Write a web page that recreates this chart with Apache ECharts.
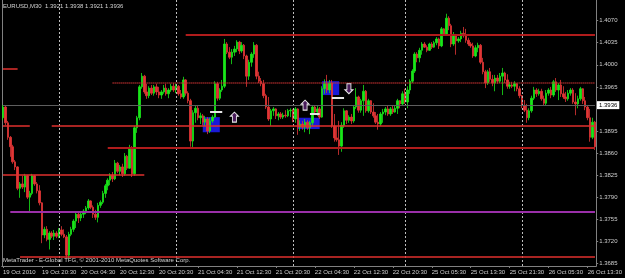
<!DOCTYPE html>
<html><head><meta charset="utf-8">
<script src="https://cdn.jsdelivr.net/npm/echarts@6.0.0/dist/echarts.min.js"></script>
<style>html,body{margin:0;padding:0;background:#000;}#c{width:625px;height:278px;}</style>
</head><body><div id="c"></div>
<script>
// Trading sessions: [day, first bar time, number of M30 bars]
const sessions = [['19 Oct','12:30',23],['20 Oct','00:00',48],['21 Oct','00:00',48],['22 Oct','00:00',46],['25 Oct','00:00',48],['26 Oct','00:00',31]];
const firstLabel = '19 Oct 2010';
const headerText = 'EURUSD,M30  1.3921 1.3938 1.3921 1.3936';
const footerText = 'MetaTrader - E-Global TFG, \u00A9 2001-2010 MetaQuotes Software Corp.';
const yTicks = [1.4070,1.4035,1.4000,1.3965,1.3895,1.3860,1.3825,1.3790,1.3755,1.3720,1.3685];
const bidPrice = 1.3936;

const open = [
1.3916,1.3933,1.3908,1.3885,1.3870,1.3846,1.3838,1.3804,1.3811,1.3806,
1.3824,1.3790,1.3796,1.3824,1.3811,1.3800,1.3781,1.3730,1.3739,1.3723,
1.3733,1.3728,1.3733,1.3728,1.3738,1.3731,1.3727,1.3698,1.3731,1.3739,
1.3752,1.3763,1.3757,1.3763,1.3768,1.3773,1.3784,1.3774,1.3763,1.3758,
1.3777,1.3782,1.3796,1.3808,1.3817,1.3825,1.3819,1.3844,1.3831,1.3838,
1.3827,1.3855,1.3836,1.3868,1.3827,1.3900,1.3916,1.3965,1.3982,1.3957,
1.3951,1.3963,1.3955,1.3965,1.3957,1.3952,1.3957,1.3963,1.3954,1.3960,
1.3966,1.3960,1.3966,1.3954,1.3949,1.3976,1.3955,1.3943,1.3879,1.3924,
1.3931,1.3916,1.3919,1.3909,1.3914,1.3895,1.3911,1.3917,1.3970,1.3947,
1.3960,1.3966,1.4033,1.4020,1.4012,1.4020,1.4025,1.4036,1.4022,1.4031,
1.4014,1.3982,1.4004,1.4017,1.4031,1.3982,1.3974,1.3970,1.3951,1.3933,
1.3914,1.3927,1.3930,1.3919,1.3922,1.3917,1.3920,1.3919,1.3927,1.3928,
1.3914,1.3930,1.3901,1.3906,1.3901,1.3909,1.3900,1.3908,1.3933,1.3925,
1.3930,1.3917,1.3962,1.3970,1.3960,1.3971,1.3903,1.3884,1.3881,1.3871,
1.3904,1.3927,1.3912,1.3917,1.3911,1.3933,1.3949,1.3928,1.3943,1.3958,
1.3927,1.3943,1.3925,1.3919,1.3909,1.3906,1.3922,1.3925,1.3930,1.3922,
1.3930,1.3925,1.3931,1.3943,1.3938,1.3954,1.3941,1.3960,1.3974,1.3990,
1.4017,1.4011,1.4023,1.4033,1.4028,1.4023,1.4033,1.4028,1.4035,1.4041,
1.4030,1.4057,1.4049,1.4074,1.4062,1.4033,1.4046,1.4038,1.4041,1.4050,
1.4046,1.4039,1.4033,1.4030,1.4014,1.4027,1.4031,1.4004,1.3989,1.3971,
1.3989,1.3977,1.3971,1.3979,1.3974,1.3982,1.3987,1.3976,1.3966,1.3968,
1.3966,1.3970,1.3962,1.3951,1.3935,1.3928,1.3916,1.3927,1.3947,1.3960,
1.3954,1.3958,1.3946,1.3939,1.3955,1.3960,1.3952,1.3973,1.3960,1.3968,
1.3954,1.3949,1.3946,1.3955,1.3960,1.3941,1.3938,1.3946,1.3962,1.3943,
1.3933,1.3916,1.3885,1.3909];
const high = [
1.3936,1.3935,1.3911,1.3887,1.3873,1.3849,1.3839,1.3814,1.3824,1.3827,
1.3825,1.3800,1.3827,1.3825,1.3814,1.3809,1.3782,1.3743,1.3744,1.3736,
1.3736,1.3738,1.3736,1.3741,1.3744,1.3739,1.3730,1.3735,1.3743,1.3755,
1.3766,1.3766,1.3766,1.3771,1.3776,1.3787,1.3785,1.3777,1.3770,1.3781,
1.3785,1.3800,1.3811,1.3820,1.3828,1.3830,1.3849,1.3846,1.3841,1.3843,
1.3860,1.3857,1.3873,1.3871,1.3903,1.3919,1.3968,1.3987,1.3984,1.3970,
1.3966,1.3968,1.3968,1.3970,1.3965,1.3960,1.3968,1.3970,1.3963,1.3970,
1.3971,1.3970,1.3968,1.3960,1.3981,1.3977,1.3958,1.3946,1.3928,1.3936,
1.3935,1.3924,1.3922,1.3919,1.3917,1.3916,1.3920,1.3974,1.3973,1.3963,
1.3976,1.4041,1.4036,1.4028,1.4025,1.4030,1.4039,1.4038,1.4036,1.4033,
1.4016,1.4008,1.4020,1.4036,1.4033,1.3989,1.3979,1.3976,1.3954,1.3949,
1.3930,1.3933,1.3931,1.3925,1.3925,1.3924,1.3928,1.3930,1.3931,1.3930,
1.3933,1.3931,1.3912,1.3911,1.3914,1.3912,1.3911,1.3936,1.3936,1.3935,
1.3933,1.3966,1.3977,1.3984,1.3976,1.3976,1.3922,1.3903,1.3911,1.3909,
1.3931,1.3928,1.3920,1.3922,1.3936,1.3963,1.3951,1.3946,1.3968,1.3960,
1.3946,1.3944,1.3939,1.3925,1.3922,1.3925,1.3930,1.3933,1.3935,1.3933,
1.3935,1.3935,1.3946,1.3944,1.3958,1.3962,1.3966,1.3977,1.3993,1.4020,
1.4020,1.4027,1.4036,1.4036,1.4031,1.4035,1.4036,1.4038,1.4044,1.4043,
1.4060,1.4058,1.4081,1.4077,1.4065,1.4052,1.4049,1.4044,1.4054,1.4060,
1.4057,1.4043,1.4036,1.4035,1.4031,1.4035,1.4033,1.4011,1.3992,1.3992,
1.3995,1.3984,1.3984,1.3984,1.3987,1.3995,1.3989,1.3985,1.3973,1.3973,
1.3974,1.3971,1.3966,1.3952,1.3944,1.3938,1.3931,1.3951,1.3965,1.3963,
1.3962,1.3962,1.3951,1.3960,1.3963,1.3965,1.3976,1.3979,1.3971,1.3976,
1.3966,1.3957,1.3960,1.3963,1.3963,1.3955,1.3951,1.3965,1.3963,1.3949,
1.3935,1.3930,1.3916,1.3911];
const low = [
1.3912,1.3904,1.3881,1.3854,1.3843,1.3833,1.3801,1.3789,1.3803,1.3798,
1.3787,1.3768,1.3793,1.3808,1.3796,1.3777,1.3717,1.3725,1.3720,1.3707,
1.3725,1.3722,1.3725,1.3725,1.3728,1.3725,1.3693,1.3693,1.3728,1.3735,
1.3741,1.3749,1.3752,1.3757,1.3763,1.3770,1.3771,1.3757,1.3754,1.3750,
1.3773,1.3779,1.3789,1.3801,1.3809,1.3814,1.3817,1.3828,1.3825,1.3822,
1.3824,1.3833,1.3835,1.3822,1.3824,1.3892,1.3912,1.3962,1.3954,1.3946,
1.3947,1.3952,1.3951,1.3952,1.3947,1.3946,1.3954,1.3951,1.3947,1.3957,
1.3957,1.3955,1.3951,1.3946,1.3946,1.3951,1.3939,1.3870,1.3868,1.3908,
1.3912,1.3906,1.3904,1.3903,1.3890,1.3892,1.3908,1.3916,1.3943,1.3944,
1.3957,1.3963,1.4017,1.4009,1.4001,1.4014,1.4020,1.4017,1.4019,1.4009,
1.3965,1.3976,1.3997,1.4011,1.3977,1.3971,1.3966,1.3947,1.3930,1.3911,
1.3903,1.3919,1.3914,1.3912,1.3914,1.3914,1.3916,1.3917,1.3917,1.3909,
1.3908,1.3889,1.3895,1.3897,1.3893,1.3897,1.3890,1.3904,1.3922,1.3919,
1.3914,1.3916,1.3954,1.3955,1.3955,1.3900,1.3878,1.3878,1.3857,1.3862,
1.3900,1.3906,1.3908,1.3906,1.3908,1.3930,1.3924,1.3924,1.3919,1.3924,
1.3924,1.3922,1.3916,1.3906,1.3897,1.3903,1.3908,1.3920,1.3919,1.3919,
1.3922,1.3924,1.3922,1.3931,1.3935,1.3938,1.3931,1.3954,1.3971,1.3987,
1.4004,1.4004,1.4016,1.4027,1.4020,1.4022,1.4025,1.4027,1.4031,1.4025,
1.4028,1.4046,1.4046,1.4055,1.4028,1.4030,1.4016,1.4035,1.4036,1.4043,
1.4035,1.4030,1.4027,1.4011,1.4012,1.4020,1.4001,1.3985,1.3963,1.3968,
1.3973,1.3966,1.3958,1.3970,1.3971,1.3952,1.3971,1.3962,1.3962,1.3963,
1.3958,1.3958,1.3947,1.3931,1.3925,1.3908,1.3912,1.3924,1.3944,1.3949,
1.3951,1.3943,1.3935,1.3936,1.3951,1.3947,1.3949,1.3957,1.3944,1.3949,
1.3946,1.3941,1.3943,1.3951,1.3938,1.3920,1.3931,1.3943,1.3938,1.3928,
1.3912,1.3878,1.3882,1.3865];
const close = [
1.3933,1.3908,1.3885,1.3870,1.3846,1.3838,1.3804,1.3811,1.3806,1.3824,
1.3790,1.3796,1.3824,1.3811,1.3800,1.3781,1.3730,1.3739,1.3723,1.3733,
1.3728,1.3733,1.3728,1.3738,1.3731,1.3727,1.3698,1.3731,1.3739,1.3752,
1.3763,1.3757,1.3763,1.3768,1.3773,1.3784,1.3774,1.3763,1.3758,1.3777,
1.3782,1.3796,1.3808,1.3817,1.3825,1.3819,1.3844,1.3831,1.3838,1.3827,
1.3855,1.3836,1.3868,1.3827,1.3900,1.3916,1.3965,1.3982,1.3957,1.3951,
1.3963,1.3955,1.3965,1.3957,1.3952,1.3957,1.3963,1.3954,1.3960,1.3966,
1.3960,1.3966,1.3954,1.3949,1.3976,1.3955,1.3943,1.3879,1.3924,1.3931,
1.3916,1.3919,1.3909,1.3914,1.3895,1.3911,1.3917,1.3970,1.3947,1.3960,
1.3966,1.4033,1.4020,1.4012,1.4020,1.4025,1.4036,1.4022,1.4031,1.4014,
1.3982,1.4004,1.4017,1.4031,1.3982,1.3974,1.3970,1.3951,1.3933,1.3914,
1.3927,1.3930,1.3919,1.3922,1.3917,1.3920,1.3919,1.3927,1.3928,1.3914,
1.3930,1.3901,1.3906,1.3901,1.3909,1.3900,1.3908,1.3933,1.3925,1.3930,
1.3917,1.3962,1.3970,1.3960,1.3971,1.3903,1.3884,1.3881,1.3871,1.3904,
1.3927,1.3912,1.3917,1.3911,1.3933,1.3949,1.3928,1.3943,1.3958,1.3927,
1.3943,1.3925,1.3919,1.3909,1.3906,1.3922,1.3925,1.3930,1.3922,1.3930,
1.3925,1.3931,1.3943,1.3938,1.3954,1.3941,1.3960,1.3974,1.3990,1.4017,
1.4011,1.4023,1.4033,1.4028,1.4023,1.4033,1.4028,1.4035,1.4041,1.4030,
1.4057,1.4049,1.4074,1.4062,1.4033,1.4046,1.4038,1.4041,1.4050,1.4046,
1.4039,1.4033,1.4030,1.4014,1.4027,1.4031,1.4004,1.3989,1.3971,1.3989,
1.3977,1.3971,1.3979,1.3974,1.3982,1.3987,1.3976,1.3966,1.3968,1.3966,
1.3970,1.3962,1.3951,1.3935,1.3928,1.3916,1.3927,1.3947,1.3960,1.3954,
1.3958,1.3946,1.3939,1.3955,1.3960,1.3952,1.3973,1.3960,1.3968,1.3954,
1.3949,1.3946,1.3955,1.3960,1.3941,1.3938,1.3946,1.3962,1.3943,1.3933,
1.3916,1.3885,1.3909,1.3870];

// Drawn objects (price levels with bar-index spans)
const levelPrice = [1.4047, 1.3993, 1.3971, 1.3903, 1.3903, 1.3869, 1.3825, 1.3767, 1.3696];
const levelFrom  = [75, 0, 45, 0, 20, 43, 0, 3, 7];
const levelTo    = [243, 6, 243, 11, 243, 243, 58, 243, 243];
const levelStyle = ['dark','red','dot','red','red','dark','red','purple','red'];
const daySepIdx = [23, 71, 119, 165, 213];
const rectFrom = [82, 121, 131], rectTo = [89, 130, 138];
const rectTop = [1.3917, 1.3916, 1.3974], rectBottom = [1.3893, 1.3898, 1.3952];
const markFrom = [85, 126, 135], markTo = [90, 130, 140], markPrice = [1.3925, 1.3922, 1.3947];
const arrowIdx = [95, 124, 142], arrowPrice = [1.3917, 1.3936, 1.3962], arrowDir = ['up','up','down'];

const cats = [];
sessions.forEach(([d, start, n]) => {
  const [h, m] = start.split(':').map(Number);
  for (let k = 0; k < n; k++) {
    const t = h * 60 + m + k * 30;
    cats.push(d + ' ' + String(Math.floor(t / 60)).padStart(2, '0') + ':' + String(t % 60).padStart(2, '0'));
  }
});
const candles = cats.map((c, i) => [open[i], close[i], low[i], high[i]]);
const lastCat = cats[cats.length - 1];

const styles = {
  red: {color: '#e0302e', width: 1.5, type: 'solid'},
  dark: {color: '#b01c1c', width: 2.2, type: 'solid'},
  dot: {color: '#c83232', width: 1.6, type: [1, 1]},
  purple: {color: '#9a2fa8', width: 1.8, type: 'solid'}
};
const levelLines = levelPrice.map((p, k) => [
  {coord: [cats[levelFrom[k]], p], lineStyle: styles[levelStyle[k]]},
  {coord: [cats[levelTo[k]], p]}
]);
const whiteLines = markPrice.map((p, k) => [
  {coord: [cats[markFrom[k]], p], lineStyle: {color: '#e6e6e6', width: 2, type: 'solid'}},
  {coord: [cats[markTo[k]], p]}
]);
const bidLine = [[
  {coord: [cats[0], bidPrice], lineStyle: {color: '#5e5e5e', width: 1, type: 'solid'},
   label: {show: true, position: 'end', formatter: bidPrice.toFixed(4), color: '#000', backgroundColor: '#ffffff',
     fontSize: 6, fontFamily: 'Liberation Sans', padding: [1, 2], distance: 2}},
  {coord: [lastCat, bidPrice]}
]];
const areas = rectTop.map((t, k) => [
  {coord: [cats[rectFrom[k]], t]},
  {coord: [cats[rectTo[k]], rectBottom[k]]}
]);
const arrowPath = 'path://M4,0 L8,4 L6,4 L6,10 L2,10 L2,4 L0,4 Z';
const arrows = arrowIdx.map((ix, k) => ({
  coord: [cats[ix], arrowPrice[k]], symbol: arrowPath, symbolSize: [8, 10],
  symbolRotate: arrowDir[k] === 'down' ? 180 : 0
}));

const YMIN = 1.36808, YMAX = 1.41028;
const font = 'Liberation Sans';
const chart = echarts.init(document.getElementById('c'));
chart.setOption({
  backgroundColor: '#000000',
  animation: false,
  grid: {left: 1, right: 24, top: 0, bottom: 12, containLabel: false},
  xAxis: {
    type: 'category', data: cats, boundaryGap: true,
    axisLine: {show: true, onZero: false, lineStyle: {color: '#808080'}},
    axisTick: {show: true, alignWithLabel: true, length: 2, interval: (i) => i % 16 === 0, lineStyle: {color: '#808080'}},
    axisLabel: {interval: (i) => i % 16 === 0, formatter: (v, i) => i === 0 ? firstLabel : v,
      color: '#cfcfcf', fontSize: 6, fontFamily: font, align: 'left', margin: 3},
    splitLine: {show: false}
  },
  yAxis: [{
    type: 'value', position: 'right', min: YMIN, max: YMAX,
    axisLine: {show: true, lineStyle: {color: '#808080'}},
    axisTick: {show: true, length: 2, customValues: yTicks, lineStyle: {color: '#808080'}},
    axisLabel: {customValues: yTicks, formatter: (v) => v.toFixed(4), color: '#cfcfcf', fontSize: 6, fontFamily: font, margin: 3},
    splitLine: {show: false}
  }, {
    type: 'value', position: 'left', min: YMIN, max: YMAX,
    axisLine: {show: true, lineStyle: {color: '#808080'}},
    axisTick: {show: false}, axisLabel: {show: false}, splitLine: {show: false}
  }],
  graphic: [
    {type: 'text', left: 3, top: 3, style: {text: headerText, fill: '#d4d4d4', font: '6px "Liberation Sans"'}},
    {type: 'text', left: 3, top: 257, style: {text: footerText, fill: '#d4d4d4', font: '6px "Liberation Sans"'}}
  ],
  series: [
    {type: 'line', data: [], z: 1, silent: true,
     markLine: {silent: true, symbol: 'none', label: {show: false}, animation: false,
       lineStyle: {color: '#bdbdbd', width: 1, type: [2, 2]},
       data: daySepIdx.map(ix => ({xAxis: cats[ix]}))},
     markArea: {silent: true, itemStyle: {color: '#1a1ad8'}, data: areas}},
    {type: 'line', data: [], z: 1, silent: true,
     markLine: {silent: true, symbol: 'none', label: {show: false}, animation: false, data: bidLine}},
    {type: 'candlestick', data: candles, z: 2, barWidth: 2,
     itemStyle: {color: '#19e619', color0: '#e23636', borderColor: '#19e619', borderColor0: '#e23636', borderWidth: 0.8}},
    {type: 'line', data: [], z: 3, silent: true,
     markLine: {silent: true, symbol: 'none', label: {show: false}, animation: false,
       data: levelLines.concat(whiteLines)},
     markPoint: {silent: true, label: {show: false}, itemStyle: {color: '#4a1c5c', borderColor: '#e8e8e8', borderWidth: 1}, data: arrows}}
  ]
});
</script></body></html>
